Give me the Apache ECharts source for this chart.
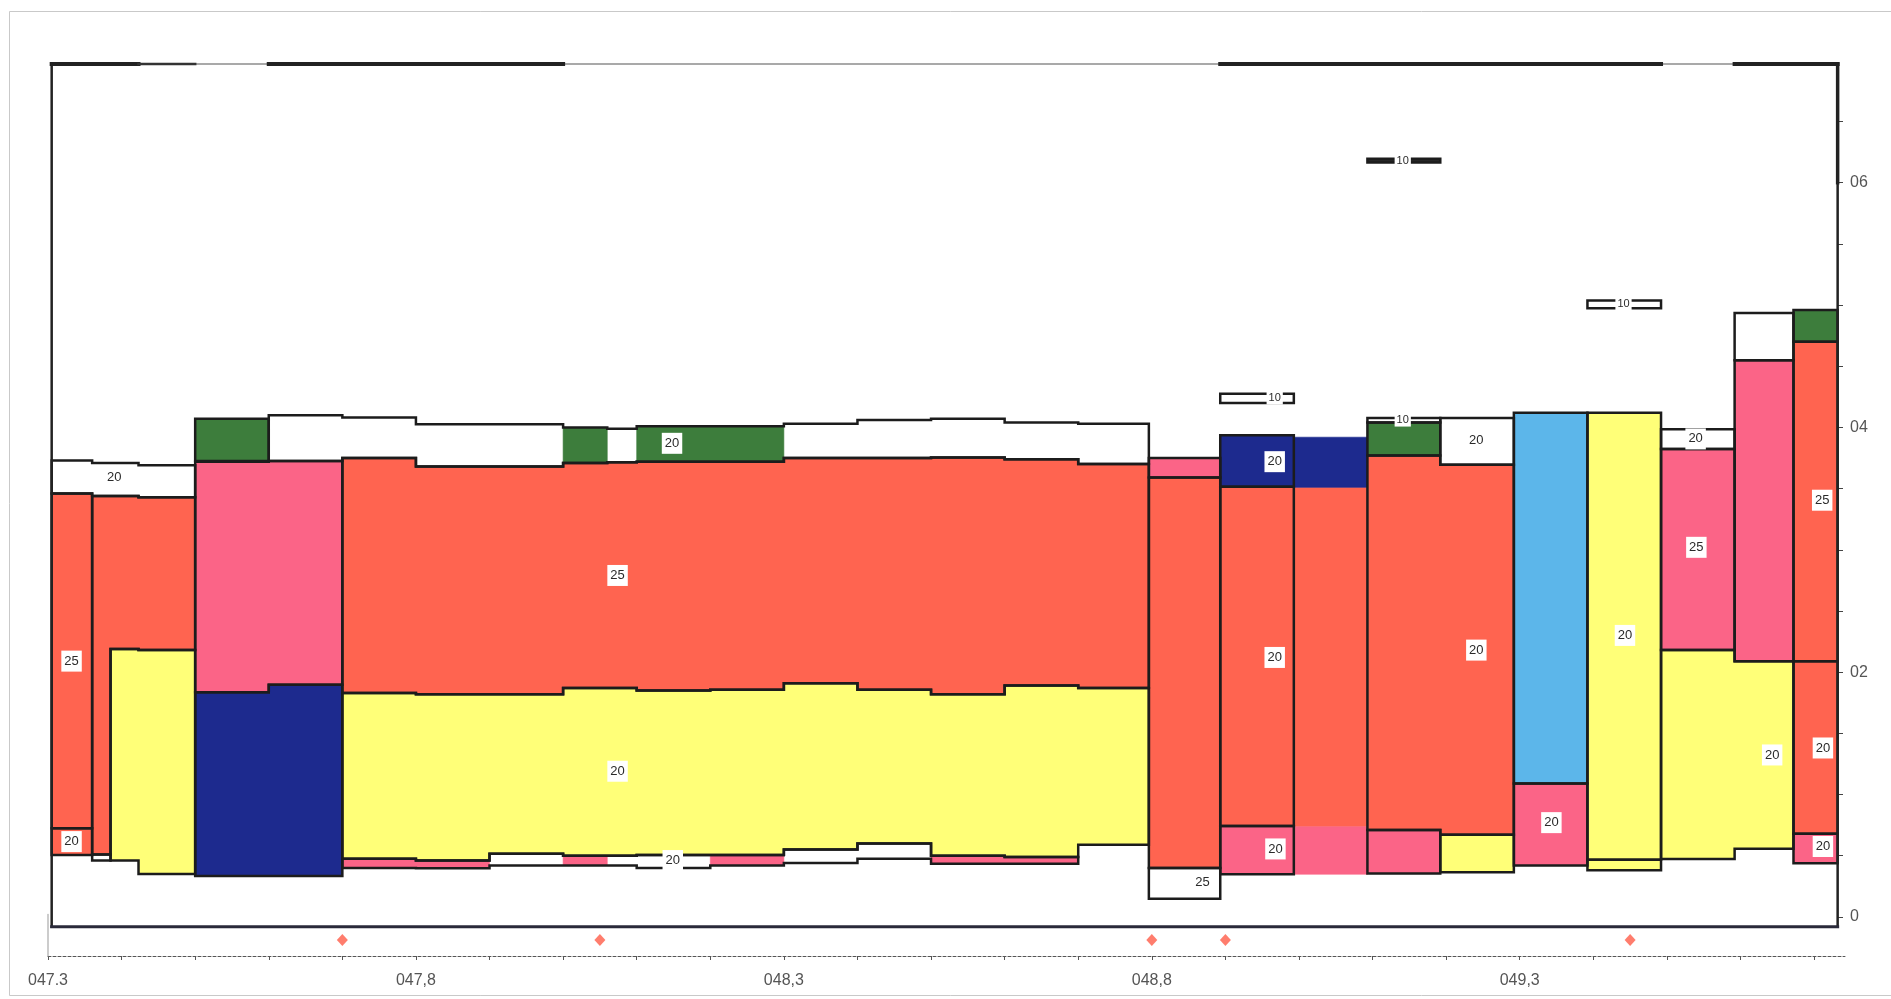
<!DOCTYPE html>
<html><head><meta charset="utf-8">
<script src="https://cdn.jsdelivr.net/npm/echarts@6/dist/echarts.min.js"></script>
<style>html,body{margin:0;padding:0;background:#fff}#c{width:1891px;height:999px}</style>
</head><body><div id="c"></div>
<script>
// ---------- axes ----------
const xMin = 47.3, xMax = 49.742;
const yMin = -0.032, yMax = 0.697;
const xLabelKm = [47.3, 47.8, 48.3, 48.8, 49.3];
const xLabelText = ['047.3', '047,8', '048,3', '048,8', '049,3'];
const yLabelVal = [0, 0.2, 0.4, 0.6];
const yLabelText = ['0', '02', '04', '06'];

// ---------- layers: [chainage breaks], [top per interval], [bottom per interval] ----------
const whiteLayers = [
  [[47.305, 47.36, 47.423, 47.5], [0.373, 0.371, 0.369], [0.346, 0.344, 0.343]],
  [[47.6, 47.7, 47.8, 47.9, 48.0, 48.06, 48.1, 48.2, 48.3, 48.4, 48.5, 48.6, 48.7, 48.796],
   [0.410, 0.408, 0.4026, 0.4026, 0.400, 0.399, 0.401, 0.401, 0.403, 0.406, 0.407, 0.404, 0.403],
   [0.3725, 0.375, 0.368, 0.368, 0.371, 0.3715, 0.372, 0.372, 0.375, 0.375, 0.3755, 0.374, 0.370]],
  [[47.36, 47.385], [0.051], [0.046]],
  [[47.7, 47.8, 47.9, 48.0, 48.1, 48.2, 48.3, 48.4, 48.5, 48.6, 48.7],
   [0.0475, 0.046, 0.0515, 0.050, 0.0505, 0.0505, 0.055, 0.060, 0.050, 0.049],
   [0.040, 0.0397, 0.042, 0.042, 0.040, 0.042, 0.044, 0.0475, 0.0434, 0.0434]],
  [[48.796, 48.893], [0.040], [0.0148]],
  [[48.893, 48.993], [0.4276], [0.420]],
  [[49.093, 49.192], [0.4076], [0.404]],
  [[49.192, 49.292], [0.4076], [0.3695]],
  [[49.392, 49.492], [0.5037], [0.4973]],
  [[49.492, 49.592], [0.3985], [0.3824]],
  [[49.592, 49.672], [0.4935], [0.4548]]
];
const greenLayers = [
  [[47.5, 47.6], [0.407], [0.3725]],
  [[49.093, 49.192], [0.404], [0.377]],
  [[49.672, 49.732], [0.496], [0.470]]
];
const redLayers = [
  [[47.305, 47.36], [0.346], [0.0725]],
  [[47.305, 47.36], [0.0725], [0.0506]],
  [[47.36, 47.385, 47.423, 47.5], [0.344, 0.344, 0.343], [0.051, 0.219, 0.218]],
  [[47.7, 47.8, 47.9, 48.0, 48.06, 48.1, 48.2, 48.3, 48.4, 48.5, 48.6, 48.7, 48.796],
   [0.375, 0.368, 0.368, 0.371, 0.3715, 0.372, 0.372, 0.375, 0.375, 0.3755, 0.374, 0.370],
   [0.183, 0.182, 0.182, 0.187, 0.187, 0.185, 0.1855, 0.191, 0.1855, 0.182, 0.189, 0.187]],
  [[48.796, 48.893], [0.359], [0.040]],
  [[48.893, 48.993], [0.3516], [0.0742]],
  [[48.993, 49.093], [0.351], [0.0736]],
  [[49.093, 49.192, 49.292], [0.377, 0.3695], [0.071, 0.067]],
  [[49.672, 49.732], [0.470], [0.2089]],
  [[49.672, 49.732], [0.2089], [0.068]]
];
const pinkLayers = [
  [[47.5, 47.6, 47.7], [0.372, 0.3725], [0.1835, 0.1897]],
  [[48.796, 48.893], [0.375], [0.359]],
  [[48.893, 48.993], [0.0742], [0.0348]],
  [[48.993, 49.093], [0.0736], [0.0348]],
  [[49.093, 49.192], [0.071], [0.0355]],
  [[49.292, 49.392], [0.109], [0.042]],
  [[49.492, 49.592], [0.3824], [0.218]],
  [[49.592, 49.672], [0.4548], [0.2089]],
  [[49.672, 49.732], [0.068], [0.0437]]
];
const yellowLayers = [
  [[47.385, 47.423, 47.5], [0.219, 0.218], [0.046, 0.035]],
  [[47.7, 47.8, 47.9, 48.0, 48.06, 48.1, 48.2, 48.3, 48.4, 48.5, 48.6, 48.7, 48.796],
   [0.183, 0.182, 0.182, 0.187, 0.187, 0.185, 0.1855, 0.191, 0.1855, 0.182, 0.189, 0.187],
   [0.0475, 0.046, 0.0515, 0.050, 0.050, 0.0505, 0.0505, 0.055, 0.060, 0.050, 0.049, 0.059]],
  [[49.192, 49.292], [0.067], [0.0364]],
  [[49.392, 49.492], [0.412], [0.0466]],
  [[49.392, 49.492], [0.0466], [0.038]],
  [[49.492, 49.592, 49.672], [0.218, 0.2089], [0.0473, 0.0556]]
];
const darkBlueLayers = [
  [[47.5, 47.6, 47.7], [0.1835, 0.1897], [0.0334, 0.0334]],
  [[48.893, 48.993], [0.3936], [0.3516]],
  [[48.993, 49.093], [0.392], [0.351]]
];
const lightBlueLayers = [
  [[49.292, 49.392], [0.412], [0.109]]
];
const ruleLayers = [
  [[49.093, 49.192], [0.6195], [0.6165]]
];
// inlays inside white bands (no own frame)
const greenInlays = [
  [[48.0, 48.06], [0.400], [0.371]],
  [[48.1, 48.2, 48.3], [0.401, 0.401], [0.372, 0.372]]
];
const pinkInlays = [
  [[47.7, 47.8, 47.9], [0.0475, 0.046], [0.040, 0.0397]],
  [[48.0, 48.06], [0.050], [0.042]],
  [[48.2, 48.3], [0.0505], [0.042]],
  [[48.5, 48.6, 48.7], [0.050, 0.049], [0.0434, 0.0434]]
];
const unframedSpans = [[48.993, 49.093]];

// ---------- thickness labels: [km, depth, text] ----------
const layerLabels = [
  [47.332, 0.209, '25'], [47.332, 0.0615, '20'], [47.39, 0.359, '20'],
  [48.074, 0.279, '25'], [48.074, 0.119, '20'], [48.148, 0.387, '20'], [48.149, 0.046, '20'],
  [48.869, 0.028, '25'],
  [48.967, 0.424, '10'], [48.967, 0.372, '20'], [48.967, 0.212, '20'], [48.968, 0.0555, '20'],
  [49.141, 0.618, '10'], [49.141, 0.406, '10'], [49.241, 0.389, '20'], [49.241, 0.218, '20'],
  [49.343, 0.077, '20'], [49.441, 0.5005, '10'], [49.443, 0.230, '20'],
  [49.539, 0.3906, '20'], [49.54, 0.302, '25'], [49.643, 0.1323, '20'],
  [49.711, 0.3405, '25'], [49.712, 0.138, '20'], [49.712, 0.0575, '20']
];

// ---------- markers ----------
const markerKm = [47.70, 48.05, 48.80, 48.90, 49.45];
const markerDepth = -0.019;

// ---------- frame ----------
const frameLeft = 47.305, frameRight = 49.732, frameTop = 0.697, frameBottom = -0.008;
const topRuleHeavy = [[47.305, 47.423], [47.6, 48.0], [48.893, 49.492], [49.592, 49.732]];
const topRuleMedium = [[47.423, 47.5]];
const rightHeavyFrom = 0.6;

// ---------- build ----------
const palette = {
  white: '#ffffff', green: '#3d7d3c', red: '#ff6450', pink: '#fb6487',
  yellow: '#ffff78', darkBlue: '#1d2a8e', lightBlue: '#5cb6ea', rule: '#262626'
};
function inUnframed(xs) {
  return unframedSpans.some(s => xs[0] >= s[0] - 1e-6 && xs[xs.length - 1] <= s[1] + 1e-6);
}
const shapes = [];
[['white', whiteLayers], ['green', greenLayers], ['red', redLayers], ['pink', pinkLayers],
 ['yellow', yellowLayers], ['darkBlue', darkBlueLayers], ['lightBlue', lightBlueLayers], ['rule', ruleLayers]]
  .forEach(([m, arr]) => arr.forEach(l => shapes.push({xs: l[0], tops: l[1], bots: l[2], color: palette[m], framed: !inUnframed(l[0])})));
[['green', greenInlays], ['pink', pinkInlays]]
  .forEach(([m, arr]) => arr.forEach(l => shapes.push({xs: l[0], tops: l[1], bots: l[2], color: palette[m], framed: false})));
const framedShapes = shapes.filter(s => s.framed);

function polyPoints(api, s) {
  const pts = [], n = s.tops.length;
  for (let i = 0; i < n; i++) { pts.push(api.coord([s.xs[i], s.tops[i]])); pts.push(api.coord([s.xs[i + 1], s.tops[i]])); }
  for (let i = n - 1; i >= 0; i--) { pts.push(api.coord([s.xs[i + 1], s.bots[i]])); pts.push(api.coord([s.xs[i], s.bots[i]])); }
  return pts;
}

const frameLines = [];
frameLines.push([[frameLeft, frameTop], [frameRight, frameTop], 1.2, '#555']);
topRuleHeavy.forEach(s => frameLines.push([[s[0], frameTop], [s[1], frameTop], 4, '#222']));
topRuleMedium.forEach(s => frameLines.push([[s[0], frameTop], [s[1], frameTop], 2.5, '#333']));
frameLines.push([[frameLeft, frameTop], [frameLeft, frameBottom], 2.5, '#222']);
frameLines.push([[frameRight, frameTop], [frameRight, rightHeavyFrom], 3.5, '#222']);
frameLines.push([[frameRight, rightHeavyFrom], [frameRight, frameBottom], 2.5, '#222']);
frameLines.push([[frameLeft, frameBottom], [frameRight, frameBottom], 3, '#2a2a3a']);
frameLines.push([[xMin, 0.002], [xMin, yMin], 1, '#999']);

const xTicks = [], yTicks = [];
for (let i = 0; i <= 24; i++) xTicks.push(Math.round((47.3 + i * 0.1) * 1000) / 1000);
for (let i = 0; i <= 13; i++) yTicks.push(Math.round(i * 0.05 * 1000) / 1000);

const font = '"Liberation Sans", Arial, sans-serif';
const chart = echarts.init(document.getElementById('c'));
chart.setOption({
  animation: false,
  backgroundColor: '#fff',
  graphic: [{type: 'rect', shape: {x: 9.5, y: 11.5, width: 1900, height: 984}, style: {fill: 'none', stroke: '#c9c9c9', lineWidth: 1}, silent: true}],
  grid: {left: 48, right: 46, top: 64, bottom: 43, containLabel: false},
  xAxis: {
    type: 'value', min: xMin, max: xMax,
    axisLine: {show: true, onZero: false, lineStyle: {color: '#555', width: 1, type: [3, 2]}},
    axisTick: {show: true, length: 4, customValues: xTicks, lineStyle: {color: '#555'}},
    axisLabel: {
      customValues: xLabelKm, margin: 17, color: '#555', fontSize: 16, fontFamily: font,
      formatter: v => { const i = xLabelKm.findIndex(k => Math.abs(k - v) < 1e-6); return i >= 0 ? xLabelText[i] : ''; }
    },
    splitLine: {show: false}
  },
  yAxis: {
    type: 'value', min: yMin, max: yMax, position: 'right', offset: -8,
    axisLine: {show: false},
    axisTick: {show: true, length: 6, customValues: yTicks, lineStyle: {color: '#444'}},
    axisLabel: {
      customValues: yLabelVal, margin: 13, color: '#555', fontSize: 16, fontFamily: font,
      formatter: v => { const i = yLabelVal.findIndex(k => Math.abs(k - v) < 1e-6); return i >= 0 ? yLabelText[i] : ''; }
    },
    splitLine: {show: false}
  },
  series: [
    {
      type: 'custom', name: 'fills', z: 2,
      data: shapes.map(s => [s.xs[0], s.tops[0]]),
      renderItem: (params, api) => {
        const s = shapes[params.dataIndex];
        return {type: 'polygon', shape: {points: polyPoints(api, s)}, style: {fill: s.color, stroke: s.color, lineWidth: 0.6}};
      }
    },
    {
      type: 'custom', name: 'outlines', z: 3,
      data: framedShapes.map(s => [s.xs[0], s.tops[0]]),
      renderItem: (params, api) => {
        const s = framedShapes[params.dataIndex];
        return {type: 'polygon', shape: {points: polyPoints(api, s)}, style: {fill: 'none', stroke: '#1c1c1c', lineWidth: 2.5, lineJoin: 'miter'}};
      }
    },
    {
      type: 'custom', name: 'frame', z: 4,
      data: frameLines.map(l => l[0]),
      renderItem: (params, api) => {
        const l = frameLines[params.dataIndex];
        const a = api.coord(l[0]), b = api.coord(l[1]);
        return {type: 'line', shape: {x1: a[0], y1: a[1], x2: b[0], y2: b[1]}, style: {stroke: l[3], lineWidth: l[2], lineCap: 'square'}};
      }
    },
    {
      type: 'custom', name: 'labels', z: 5,
      data: layerLabels.map(l => [l[0], l[1]]),
      renderItem: (params, api) => {
        const l = layerLabels[params.dataIndex];
        const p = api.coord([l[0], l[1]]);
        const small = l[2] === '10';
        return {type: 'text', x: p[0], y: p[1], style: {
          text: l[2], fill: '#2a2a2a', align: 'center', verticalAlign: 'middle',
          font: (small ? '11px ' : '13px ') + font, backgroundColor: '#fff',
          padding: small ? [1, 2, 1, 2] : [4, 3, 4, 3]
        }};
      }
    },
    {
      type: 'scatter', name: 'markers', z: 5, symbol: 'diamond', symbolSize: [11, 12],
      itemStyle: {color: '#ff5d48'},
      data: markerKm.map(k => [k, markerDepth])
    }
  ]
});
</script></body></html>
